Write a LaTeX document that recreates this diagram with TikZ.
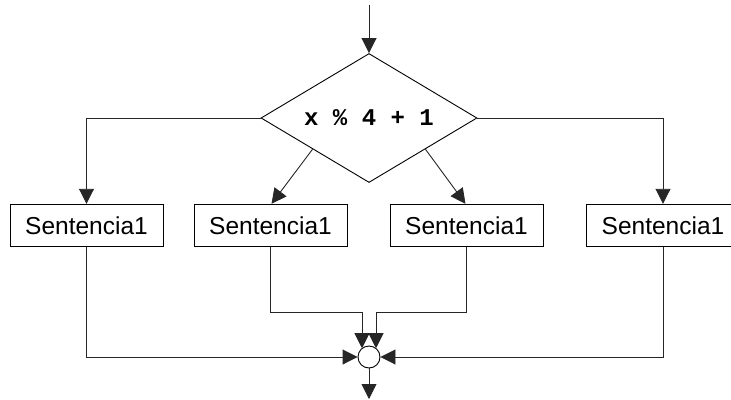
\documentclass[tikz,border=0pt]{standalone}
\usepackage{fontspec}
\setmainfont{Liberation Sans}
\newfontfamily\codefont{Liberation Mono}
\usetikzlibrary{shapes.geometric,arrows.meta,calc}
\begin{document}
\begin{tikzpicture}[x=1pt,y=-1pt,
  conn/.style={draw=black!85,line width=0.9pt},
  arr/.style={conn,-{Triangle[length=15pt,width=15pt]}},
  stmt/.style={draw,line width=0.9pt,minimum width=153pt,minimum height=42.5pt,inner sep=0pt,
    font=\fontsize{24.5}{29}\selectfont},
  cond/.style={draw,line width=0.9pt,shape=diamond,aspect=1.67,minimum width=216pt,minimum height=129pt,inner sep=0pt,
    font=\codefont\bfseries\fontsize{24}{28}\selectfont},
  junction/.style={draw,line width=0.9pt,circle,minimum size=22pt,inner sep=0pt}]
\useasboundingbox (0,0) rectangle (731,399);
\coordinate (in) at (369,5);
\node[cond] (d) at (369,118) {x \% 4 + 1};
\node[stmt] (b1) at (86.5,225.5) {Sentencia1};
\node[stmt] (b2) at (270.5,225.5) {Sentencia1};
\node[stmt] (b3) at (466.5,225.5) {Sentencia1};
\node[stmt] (b4) at (663,225.5) {Sentencia1};
\node[junction] (c) at (369,357) {};
\coordinate (out) at (369,399);
\coordinate (j2) at (362,312);
\coordinate (j3) at (376,312);
\draw[arr] (in) -- (d.north);
\draw[arr] (d.west) -| (b1.north);
\draw[arr] (d.east) -| (b4.north);
\draw[arr] ($(d.west)!0.48!(d.south)$) -- ($(b2.north)+(1,0)$);
\draw[arr] ($(d.east)!0.48!(d.south)$) -- ($(b3.north)+(-1,0)$);
\draw[arr] (b1.south) |- (c.west);
\draw[arr] (b4.south) |- (c.east);
\draw[arr] (b2.south) |- (j2) -- (j2 |- c.130);
\draw[arr] (b3.south) |- (j3) -- (j3 |- c.50);
\draw[arr] (c.south) -- (out);
\end{tikzpicture}
\end{document}
